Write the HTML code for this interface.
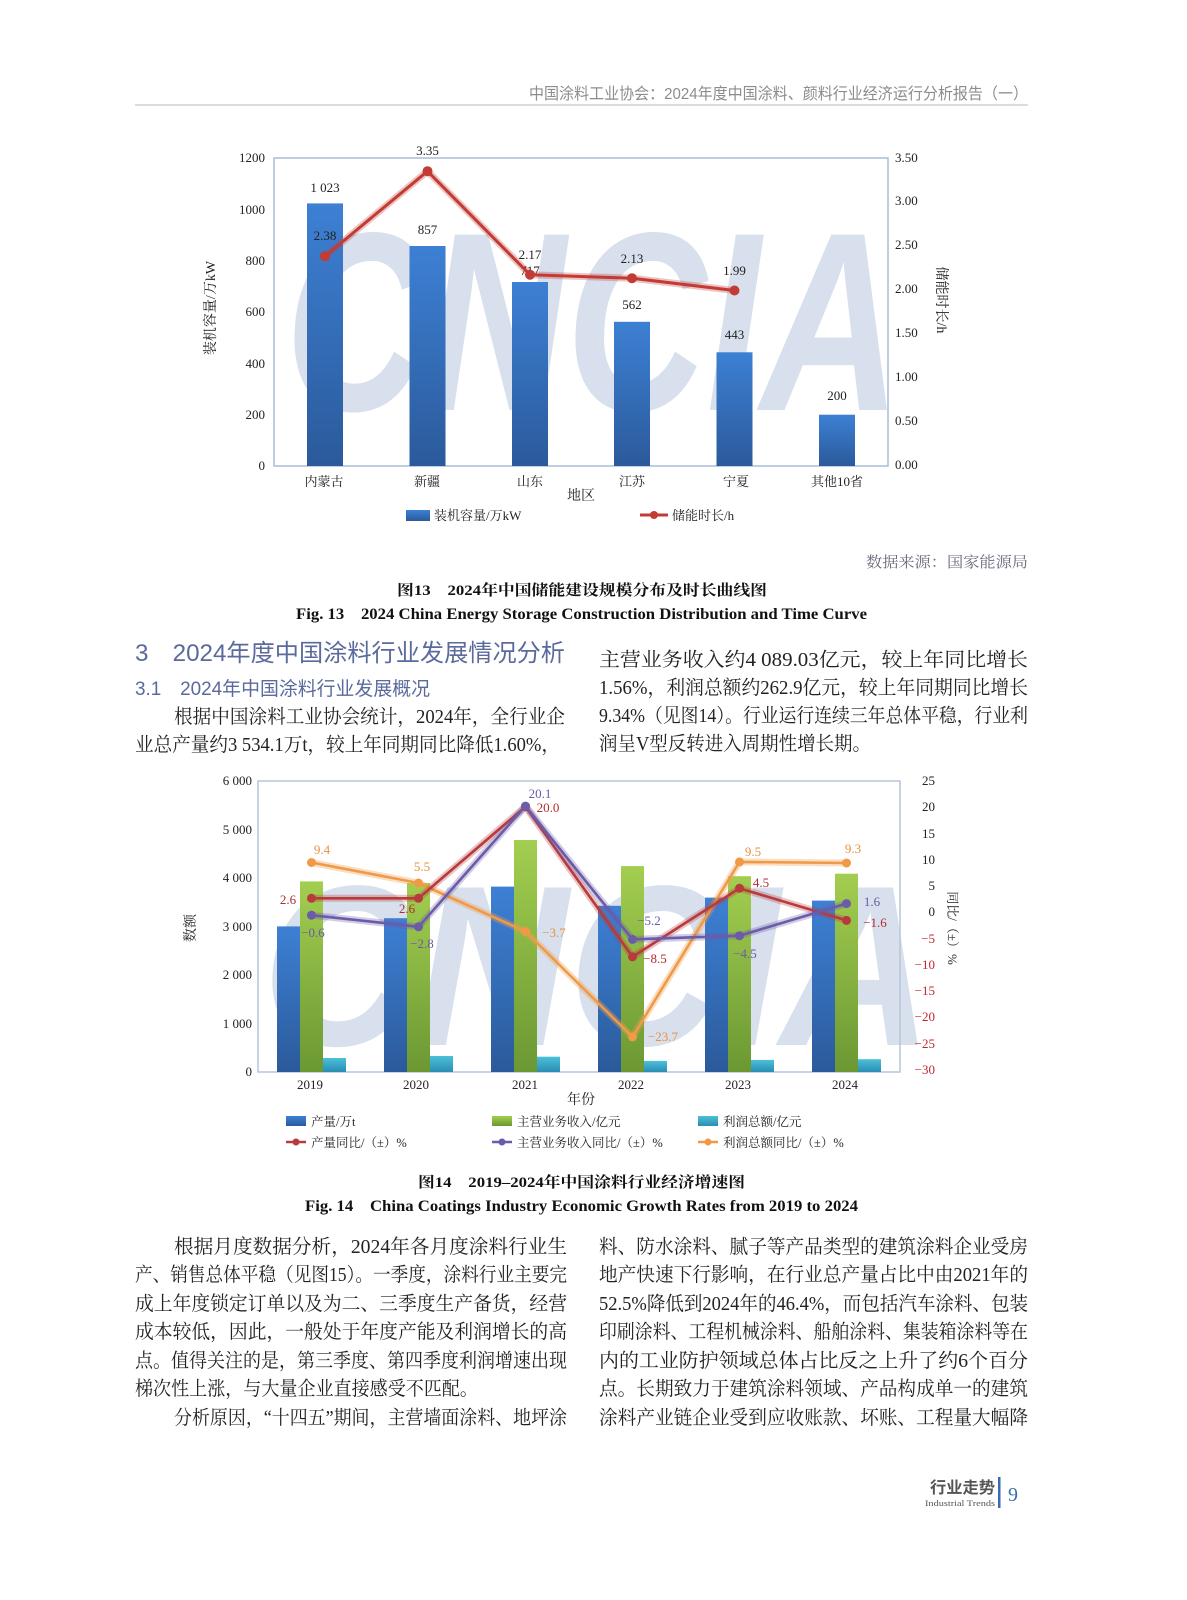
<!DOCTYPE html>
<html><head><meta charset="utf-8"><style>
html,body{margin:0;padding:0;background:#fff;}
svg{display:block;}
.s{font-family:"Liberation Serif","Noto Serif CJK SC",serif;}
.ss{font-family:"Liberation Sans","Noto Sans CJK SC",sans-serif;}
</style></head><body>
<svg width="1187" height="1600" viewBox="0 0 1187 1600" xmlns="http://www.w3.org/2000/svg">
<defs>
<linearGradient id="gb" x1="0" y1="0" x2="0" y2="1"><stop offset="0" stop-color="#3d80d4"/><stop offset="1" stop-color="#2b5a9b"/></linearGradient>
<linearGradient id="gg" x1="0" y1="0" x2="0" y2="1"><stop offset="0" stop-color="#a3ce50"/><stop offset="1" stop-color="#6b9833"/></linearGradient>
<linearGradient id="gc" x1="0" y1="0" x2="0" y2="1"><stop offset="0" stop-color="#4cc0d9"/><stop offset="1" stop-color="#2a8db3"/></linearGradient>
</defs>
<rect width="1187" height="1600" fill="#fff"/>

<!-- header -->
<text class="ss" x="529" y="99" font-size="16" fill="#8c8c8c" textLength="499" lengthAdjust="spacingAndGlyphs">中国涂料工业协会：2024年度中国涂料、颜料行业经济运行分析报告（一）</text>
<rect x="135" y="104" width="893" height="2" fill="#dcdcdc"/>

<!-- ===== Chart 1 ===== -->
<text class="ss" x="285" y="410" font-size="255" font-weight="bold" font-style="italic" fill="#d7e0ec" textLength="616" lengthAdjust="spacingAndGlyphs">CNCIA</text>
<rect x="274" y="158" width="614" height="308" fill="none" stroke="#a9bed8" stroke-width="1.5"/>
<g class="s" font-size="13" fill="#222" text-anchor="end">
<text x="265" y="162">1200</text><text x="265" y="214">1000</text><text x="265" y="265">800</text><text x="265" y="316">600</text><text x="265" y="368">400</text><text x="265" y="419">200</text><text x="265" y="470">0</text>
</g>
<g class="s" font-size="13" fill="#222">
<text x="895" y="162">3.50</text><text x="895" y="205">3.00</text><text x="895" y="249">2.50</text><text x="895" y="293">2.00</text><text x="895" y="337">1.50</text><text x="895" y="381">1.00</text><text x="895" y="425">0.50</text><text x="895" y="469">0.00</text>
</g>
<g fill="url(#gb)">
<rect x="307" y="203.4" width="36" height="262.6"/>
<rect x="409.5" y="246" width="36" height="220"/>
<rect x="512" y="282" width="36" height="184"/>
<rect x="614" y="321.8" width="36" height="144.2"/>
<rect x="716.5" y="352.3" width="36" height="113.7"/>
<rect x="819" y="414.7" width="36" height="51.3"/>
</g>
<g class="s" font-size="13" fill="#222" text-anchor="middle">
<text x="325" y="192">1 023</text><text x="427.5" y="234">857</text><text x="530" y="275">717</text><text x="632" y="309">562</text><text x="734.5" y="339">443</text><text x="837" y="400">200</text>
</g>
<polyline points="325,256.3 427.5,171.2 530,274.7 632,278.2 734.5,290.5" fill="none" stroke="#c23b34" stroke-opacity="0.3" stroke-width="7" stroke-linejoin="round"/>
<polyline points="325,256.3 427.5,171.2 530,274.7 632,278.2 734.5,290.5" fill="none" stroke="#c23b34" stroke-width="3" stroke-linejoin="round"/>
<g fill="#c23b34">
<circle cx="325" cy="256.3" r="5"/><circle cx="427.5" cy="171.2" r="5"/><circle cx="530" cy="274.7" r="5"/><circle cx="632" cy="278.2" r="5"/><circle cx="734.5" cy="290.5" r="5"/>
</g>
<g class="s" font-size="13" fill="#222" text-anchor="middle">
<text x="325" y="240">2.38</text><text x="427.5" y="155">3.35</text><text x="530" y="259">2.17</text><text x="632" y="263">2.13</text><text x="734.5" y="275">1.99</text>
</g>
<g class="s" font-size="13" fill="#222" text-anchor="middle">
<text x="324" y="486">内蒙古</text><text x="427" y="486">新疆</text><text x="530" y="486">山东</text><text x="632" y="486">江苏</text><text x="736" y="486">宁夏</text><text x="837" y="486">其他10省</text>
<text x="581" y="500" font-size="14">地区</text>
</g>
<text class="s" x="210" y="308" font-size="14" fill="#222" text-anchor="middle" transform="rotate(-90 210 308)" dy="5">装机容量/万kW</text>
<text class="s" x="942" y="300" font-size="14" fill="#222" text-anchor="middle" transform="rotate(90 942 300)" dy="5">储能时长/h</text>
<rect x="406" y="510" width="24" height="11" fill="url(#gb)"/>
<text class="s" x="434" y="520" font-size="13" fill="#222">装机容量/万kW</text>
<line x1="640" y1="515" x2="668" y2="515" stroke="#c23b34" stroke-width="3"/>
<circle cx="654" cy="515" r="4" fill="#c23b34"/>
<text class="s" x="672" y="520" font-size="13" fill="#222">储能时长/h</text>

<!-- source + caption -->
<text class="s" x="866" y="567" font-size="15" fill="#6a6a80" textLength="162" lengthAdjust="spacingAndGlyphs">数据来源：国家能源局</text>
<text class="s" x="397" y="595" font-size="15" font-weight="bold" fill="#111" textLength="370" lengthAdjust="spacingAndGlyphs">图13　2024年中国储能建设规模分布及时长曲线图</text>
<text class="s" x="296" y="619" font-size="16" font-weight="bold" fill="#111" textLength="571" lengthAdjust="spacingAndGlyphs">Fig. 13　2024 China Energy Storage Construction Distribution and Time Curve</text>

<!-- section headings -->
<text class="ss" x="135" y="661" font-size="24" fill="#5a6a9c" textLength="430" lengthAdjust="spacingAndGlyphs">3　2024年度中国涂料行业发展情况分析</text>
<text class="ss" x="135" y="695" font-size="19" fill="#5a6a9c" textLength="295" lengthAdjust="spacingAndGlyphs">3.1　2024年中国涂料行业发展概况</text>

<g class="s" font-size="19.5" fill="#222">
<text x="174" y="723" textLength="391" lengthAdjust="spacingAndGlyphs">根据中国涂料工业协会统计，2024年，全行业企</text>
<text x="135" y="751" textLength="425" lengthAdjust="spacingAndGlyphs">业总产量约3 534.1万t，较上年同期同比降低1.60%，</text>
<text x="599" y="666" textLength="429" lengthAdjust="spacingAndGlyphs">主营业务收入约4 089.03亿元，较上年同比增长</text>
<text x="599" y="694" textLength="429" lengthAdjust="spacingAndGlyphs">1.56%，利润总额约262.9亿元，较上年同期同比增长</text>
<text x="599" y="722" textLength="429" lengthAdjust="spacingAndGlyphs">9.34%（见图14）。行业运行连续三年总体平稳，行业利</text>
<text x="599" y="750" textLength="272" lengthAdjust="spacingAndGlyphs">润呈V型反转进入周期性增长期。</text>
</g>

<!-- ===== Chart 2 ===== -->
<text class="ss" x="262" y="1045" font-size="229" font-weight="bold" font-style="italic" fill="#d7e0ec" textLength="671" lengthAdjust="spacingAndGlyphs">CNCIA</text>
<rect x="258" y="781" width="642" height="291" fill="none" stroke="#b5c6da" stroke-width="1.5"/>
<g class="s" font-size="13" fill="#222" text-anchor="end">
<text x="252" y="785">6 000</text><text x="252" y="834">5 000</text><text x="252" y="882">4 000</text><text x="252" y="931">3 000</text><text x="252" y="979">2 000</text><text x="252" y="1028">1 000</text><text x="252" y="1076">0</text>
</g>
<g class="s" font-size="13" text-anchor="end">
<text x="935" y="785" fill="#222">25</text><text x="935" y="811" fill="#222">20</text><text x="935" y="838" fill="#222">15</text><text x="935" y="864" fill="#222">10</text><text x="935" y="890" fill="#222">5</text><text x="935" y="916" fill="#222">0</text>
<text x="935" y="943" fill="#c0282d">−5</text><text x="935" y="969" fill="#c0282d">−10</text><text x="935" y="995" fill="#c0282d">−15</text><text x="935" y="1021" fill="#c0282d">−20</text><text x="935" y="1048" fill="#c0282d">−25</text><text x="935" y="1074" fill="#c0282d">−30</text>
</g>
<!-- bars -->
<g fill="url(#gb)">
<rect x="277" y="926.4" width="23" height="145.6"/>
<rect x="384" y="918.2" width="23" height="153.8"/>
<rect x="491" y="886.6" width="23" height="185.4"/>
<rect x="598" y="905.8" width="23" height="166.2"/>
<rect x="705" y="897.6" width="23" height="174.4"/>
<rect x="812" y="900.6" width="23" height="171.4"/>
</g>
<g fill="url(#gg)">
<rect x="300" y="881.4" width="23" height="190.6"/>
<rect x="407" y="883" width="23" height="189"/>
<rect x="514" y="840" width="23" height="232"/>
<rect x="621" y="866.1" width="23" height="205.9"/>
<rect x="728" y="876.2" width="23" height="195.8"/>
<rect x="835" y="873.7" width="23" height="198.3"/>
</g>
<g fill="url(#gc)">
<rect x="323" y="1058" width="23" height="14"/>
<rect x="430" y="1056" width="23" height="16"/>
<rect x="537" y="1056.7" width="23" height="15.3"/>
<rect x="644" y="1060.9" width="23" height="11.1"/>
<rect x="751" y="1059.9" width="23" height="12.1"/>
<rect x="858" y="1059.2" width="23" height="12.8"/>
</g>
<!-- lines -->
<g fill="none" stroke-linejoin="round">
<polyline points="311.5,862.5 418.5,883 525.5,931.5 632.5,1036.9 739.5,861.9 846.5,863" stroke="#f2a050" stroke-opacity="0.35" stroke-width="7"/>
<polyline points="311.5,862.5 418.5,883 525.5,931.5 632.5,1036.9 739.5,861.9 846.5,863" stroke="#f09a48" stroke-width="2.6"/>
<polyline points="311.5,898.3 418.5,898.3 525.5,806.6 632.5,956.8 739.5,888.3 846.5,920.4" stroke="#b83a3c" stroke-opacity="0.3" stroke-width="7"/>
<polyline points="311.5,898.3 418.5,898.3 525.5,806.6 632.5,956.8 739.5,888.3 846.5,920.4" stroke="#b83a3c" stroke-width="2.6"/>
<polyline points="311.5,915.2 418.5,926.8 525.5,806.1 632.5,939.4 739.5,935.7 846.5,903.6" stroke="#6b5ba8" stroke-opacity="0.3" stroke-width="7"/>
<polyline points="311.5,915.2 418.5,926.8 525.5,806.1 632.5,939.4 739.5,935.7 846.5,903.6" stroke="#6b5ba8" stroke-width="2.6"/>
</g>
<g fill="#f09a48">
<circle cx="311.5" cy="862.5" r="4.5"/><circle cx="418.5" cy="883" r="4.5"/><circle cx="525.5" cy="931.5" r="4.5"/><circle cx="632.5" cy="1036.9" r="4.5"/><circle cx="739.5" cy="861.9" r="4.5"/><circle cx="846.5" cy="863" r="4.5"/>
</g>
<g fill="#b83a3c">
<circle cx="311.5" cy="898.3" r="4.5"/><circle cx="418.5" cy="898.3" r="4.5"/><circle cx="525.5" cy="806.6" r="4.5"/><circle cx="632.5" cy="956.8" r="4.5"/><circle cx="739.5" cy="888.3" r="4.5"/><circle cx="846.5" cy="920.4" r="4.5"/>
</g>
<g fill="#6b5ba8">
<circle cx="311.5" cy="915.2" r="4.5"/><circle cx="418.5" cy="926.8" r="4.5"/><circle cx="525.5" cy="806.1" r="4.5"/><circle cx="632.5" cy="939.4" r="4.5"/><circle cx="739.5" cy="935.7" r="4.5"/><circle cx="846.5" cy="903.6" r="4.5"/>
</g>
<!-- labels -->
<g class="s" font-size="13" text-anchor="middle">
<g fill="#b02c30">
<text x="288" y="904">2.6</text><text x="407" y="913">2.6</text><text x="548" y="812">20.0</text><text x="655" y="963">−8.5</text><text x="761" y="887">4.5</text><text x="875" y="927">−1.6</text>
</g>
<g fill="#6b5ba8">
<text x="313" y="937">−0.6</text><text x="422" y="948">−2.8</text><text x="540" y="798">20.1</text><text x="649" y="925">−5.2</text><text x="745" y="958">−4.5</text><text x="872" y="906">1.6</text>
</g>
<g fill="#e8923e">
<text x="322" y="854">9.4</text><text x="422" y="871">5.5</text><text x="554" y="937">−3.7</text><text x="663" y="1041">−23.7</text><text x="753" y="856">9.5</text><text x="853" y="853">9.3</text>
</g>
</g>
<g class="s" font-size="13" fill="#222" text-anchor="middle">
<text x="310" y="1089">2019</text><text x="416" y="1089">2020</text><text x="525" y="1089">2021</text><text x="631" y="1089">2022</text><text x="738" y="1089">2023</text><text x="845" y="1089">2024</text>
<text x="581" y="1104" font-size="14">年份</text>
</g>
<text class="s" x="190" y="928" font-size="14" fill="#222" text-anchor="middle" transform="rotate(-90 190 928)" dy="5">数额</text>
<text class="s" x="953" y="928" font-size="13" fill="#222" text-anchor="middle" transform="rotate(90 953 928)" dy="5">同比/（±）%</text>
<!-- legend -->
<rect x="286" y="1116" width="20" height="10" fill="url(#gb)"/>
<text class="s" x="311" y="1126" font-size="12.5" fill="#222">产量/万t</text>
<rect x="492" y="1116" width="20" height="10" fill="url(#gg)"/>
<text class="s" x="517" y="1126" font-size="12.5" fill="#222">主营业务收入/亿元</text>
<rect x="698" y="1116" width="20" height="10" fill="url(#gc)"/>
<text class="s" x="723" y="1126" font-size="12.5" fill="#222">利润总额/亿元</text>
<line x1="286" y1="1142" x2="306" y2="1142" stroke="#b83a3c" stroke-width="2.5"/><circle cx="296" cy="1142" r="3.5" fill="#b83a3c"/>
<text class="s" x="311" y="1147" font-size="12.5" fill="#222">产量同比/（±）%</text>
<line x1="492" y1="1142" x2="512" y2="1142" stroke="#6b5ba8" stroke-width="2.5"/><circle cx="502" cy="1142" r="3.5" fill="#6b5ba8"/>
<text class="s" x="517" y="1147" font-size="12.5" fill="#222">主营业务收入同比/（±）%</text>
<line x1="698" y1="1142" x2="718" y2="1142" stroke="#f09a48" stroke-width="2.5"/><circle cx="708" cy="1142" r="3.5" fill="#f09a48"/>
<text class="s" x="723" y="1147" font-size="12.5" fill="#222">利润总额同比/（±）%</text>

<!-- caption 2 -->
<text class="s" x="418" y="1187" font-size="15" font-weight="bold" fill="#111" textLength="327" lengthAdjust="spacingAndGlyphs">图14　2019–2024年中国涂料行业经济增速图</text>
<text class="s" x="305" y="1211" font-size="16" font-weight="bold" fill="#111" textLength="553" lengthAdjust="spacingAndGlyphs">Fig. 14　China Coatings Industry Economic Growth Rates from 2019 to 2024</text>

<!-- bottom text -->
<g class="s" font-size="19.5" fill="#222">
<text x="174" y="1253" textLength="393" lengthAdjust="spacingAndGlyphs">根据月度数据分析，2024年各月度涂料行业生</text>
<text x="135" y="1281" textLength="432" lengthAdjust="spacingAndGlyphs">产、销售总体平稳（见图15）。一季度，涂料行业主要完</text>
<text x="135" y="1310" textLength="432" lengthAdjust="spacingAndGlyphs">成上年度锁定订单以及为二、三季度生产备货，经营</text>
<text x="135" y="1338" textLength="432" lengthAdjust="spacingAndGlyphs">成本较低，因此，一般处于年度产能及利润增长的高</text>
<text x="135" y="1367" textLength="432" lengthAdjust="spacingAndGlyphs">点。值得关注的是，第三季度、第四季度利润增速出现</text>
<text x="135" y="1395" textLength="343" lengthAdjust="spacingAndGlyphs">梯次性上涨，与大量企业直接感受不匹配。</text>
<text x="174" y="1424" textLength="393" lengthAdjust="spacingAndGlyphs">分析原因，“十四五”期间，主营墙面涂料、地坪涂</text>
<text x="599" y="1253" textLength="429" lengthAdjust="spacingAndGlyphs">料、防水涂料、腻子等产品类型的建筑涂料企业受房</text>
<text x="599" y="1281" textLength="429" lengthAdjust="spacingAndGlyphs">地产快速下行影响，在行业总产量占比中由2021年的</text>
<text x="599" y="1310" textLength="429" lengthAdjust="spacingAndGlyphs">52.5%降低到2024年的46.4%，而包括汽车涂料、包装</text>
<text x="599" y="1338" textLength="429" lengthAdjust="spacingAndGlyphs">印刷涂料、工程机械涂料、船舶涂料、集装箱涂料等在</text>
<text x="599" y="1367" textLength="429" lengthAdjust="spacingAndGlyphs">内的工业防护领域总体占比反之上升了约6个百分</text>
<text x="599" y="1395" textLength="429" lengthAdjust="spacingAndGlyphs">点。长期致力于建筑涂料领域、产品构成单一的建筑</text>
<text x="599" y="1424" textLength="429" lengthAdjust="spacingAndGlyphs">涂料产业链企业受到应收账款、坏账、工程量大幅降</text>
</g>

<!-- footer -->
<text class="ss" x="930" y="1493" font-size="16" font-weight="bold" fill="#555" textLength="65" lengthAdjust="spacingAndGlyphs">行业走势</text>
<text class="s" x="925" y="1506" font-size="8.5" fill="#555" textLength="70" lengthAdjust="spacingAndGlyphs">Industrial Trends</text>
<rect x="998" y="1477" width="2.5" height="31" fill="#3a6ab0"/>
<text class="s" x="1008" y="1501" font-size="20" fill="#3b6db0">9</text>
</svg>
</body></html>
